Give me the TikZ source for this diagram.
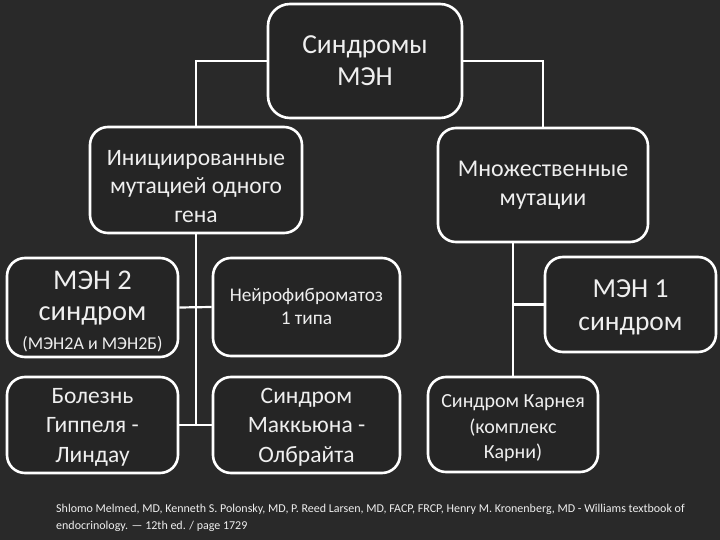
\documentclass[tikz,border=0pt]{standalone}
\usepackage{fontspec}
\setmainfont{Carlito}
\definecolor{bg}{HTML}{292929}
\definecolor{boxfill}{HTML}{252525}
\definecolor{txt}{HTML}{EFEFEF}
\newcommand{\smallfs}{\fontsize{18}{22}\selectfont}
\begin{document}
\begin{tikzpicture}[x=1pt,y=-1pt,
  box/.style={draw=white,line width=2.6pt,fill=boxfill,rounded corners=18pt,
    text=txt,align=center,inner sep=0pt,anchor=center},
  conn/.style={draw=white,line width=2.2pt},
  fs/.style args={#1/#2}{font=\fontsize{#1}{#2}\selectfont}]
\fill[bg] (0,0) rectangle (720,540);
\useasboundingbox (0,0) rectangle (720,540);

\node[box,minimum width=194pt,minimum height=114pt,rounded corners=22pt,fs=27.5/32] (top) at (365,61) {Синдромы\\МЭН};
\node[box,minimum width=212pt,minimum height=106pt,fs=23.5/28.5] (init) at (196,180) {\rule{0pt}{28pt}Инициированные\\мутацией одного\\гена};
\node[box,minimum width=210pt,minimum height=114pt,fs=24/29] (multi) at (543,185) {Множественные\\мутации};
\node[box,minimum width=171pt,minimum height=99pt,fs=28.5/31] (men2) at (92.5,307.5)
  {\rule{0pt}{26pt}МЭН 2\\синдром\\[-2pt]\smallfs (МЭН2А и МЭН2Б)};
\node[box,minimum width=187pt,minimum height=98pt,fs=19.3/23] (neuro) at (306.5,307) {Нейрофиброматоз\\1 типа};
\node[box,minimum width=171pt,minimum height=95pt,fs=27.5/33] (men1) at (630.5,304.5) {\rule{0pt}{24pt}МЭН 1\\синдром};
\node[box,minimum width=171pt,minimum height=96pt,fs=23.5/29.5] (hippel) at (92.5,425) {\rule{0pt}{19pt}Болезнь\\Гиппеля -\\Линдау};
\node[box,minimum width=187pt,minimum height=96pt,fs=23.5/29.5] (mccune) at (306.5,425) {\rule{0pt}{19pt}Синдром\\Маккьюна -\\Олбрайта};
\node[box,minimum width=170pt,minimum height=95pt,fs=20/25.5] (carney) at (513,424.5) {\rule{0pt}{21pt}Синдром Карнея\\(комплекс\\Карни)};

\coordinate (jl) at (196,425);
\draw[conn] (top.west) -| (init.north);
\draw[conn] (top.east) -| (multi.north);
\draw[conn] (init.south) -- (jl);
\draw[conn] (men2.east) -- (neuro.west);
\draw[conn] (hippel.east) -- (mccune.west);
\draw[conn] (multi.south -| carney.north) -- (carney.north);
\draw[conn] (men1.west) -- (men1.west -| carney.north);

\node[anchor=north west,text=txt,align=left,inner sep=0pt,font=\fontsize{12}{17}\selectfont] (cite) at (56,504)
  {Shlomo Melmed, MD, Kenneth S. Polonsky, MD, P. Reed Larsen, MD, FACP, FRCP, Henry M. Kronenberg, MD - Williams textbook of\\endocrinology. --- 12th ed. / page 1729};
\end{tikzpicture}
\end{document}
